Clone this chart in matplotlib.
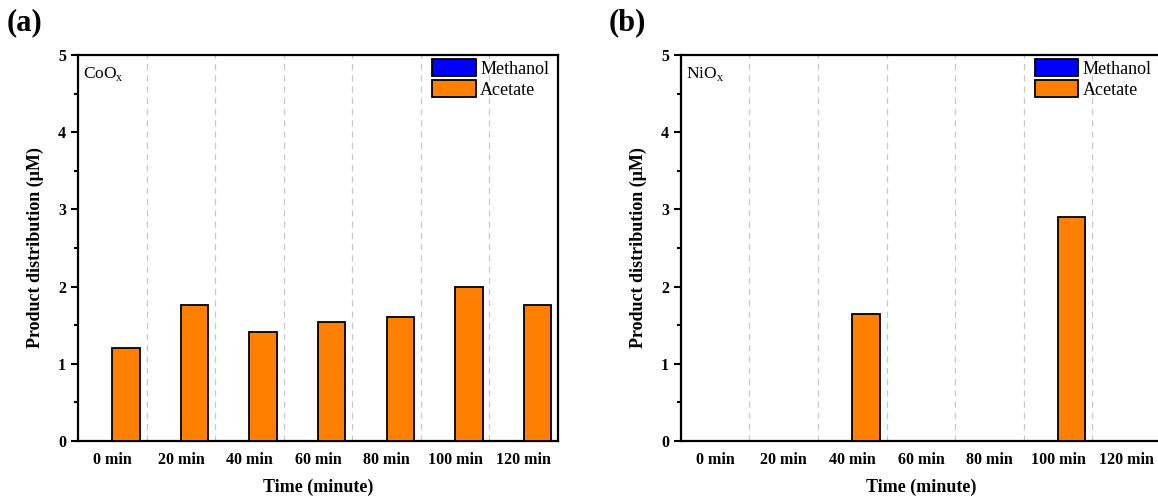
import matplotlib
matplotlib.use("Agg")
import matplotlib.pyplot as plt
import numpy as np

plt.rcParams["font.family"] = ["Liberation Serif", "DejaVu Serif"]
plt.rcParams["mathtext.fontset"] = "custom"
plt.rcParams["mathtext.rm"] = "Liberation Serif"

tiempos = ["0 min", "20 min", "40 min", "60 min", "80 min", "100 min", "120 min"]

# CoOx
metanol_co = [0, 0, 0, 0, 0, 0, 0]
acetato_co = [1.21, 1.76, 1.41, 1.54, 1.60, 2.00, 1.76]

# NiOx
metanol_ni = [0, 0, 0, 0, 0, 0, 0]
acetato_ni = [0, 0, 1.65, 0, 0, 2.90, 0]

COLOR_MET = "#0000ff"
COLOR_ACE = "#ff8000"


def panel(ax, metanol, acetato, muestra, letra):
    x = np.arange(len(tiempos))
    ancho = 0.4
    ax.bar(x - ancho / 2, metanol, ancho, color=COLOR_MET, edgecolor="black",
           linewidth=1.3, label="Methanol", zorder=3)
    ax.bar(x + ancho / 2, acetato, ancho, color=COLOR_ACE, edgecolor="black",
           linewidth=1.3, label="Acetate", zorder=3)
    # separadores entre intervalos
    for s in x[:-1] + 0.5:
        ax.axvline(s, color="#c8c8c8", ls=(0, (5, 4)), lw=0.9, zorder=1)
    ax.set_xlim(-0.5, len(tiempos) - 0.5)
    ax.set_ylim(0, 5)
    ax.set_xticks(x)
    ax.set_xticklabels(tiempos, fontsize=11.5, fontweight="bold")
    ax.tick_params(axis="x", length=0, pad=8)
    ax.set_yticks(range(6))
    ax.set_yticks(np.arange(0.5, 5, 1), minor=True)
    ax.tick_params(axis="y", which="major", length=5, width=1.5, labelsize=11.5)
    ax.tick_params(axis="y", which="minor", length=3, width=1.5)
    for lab in ax.get_yticklabels():
        lab.set_fontweight("bold")
    for sp in ax.spines.values():
        sp.set_linewidth(1.6)
    ax.set_xlabel("Time (minute)", fontsize=13, fontweight="bold", labelpad=8)
    ax.set_ylabel("Product distribution (\u03bcM)", fontsize=13,
                  fontweight="bold", labelpad=10)
    ax.text(0.01, 0.975, muestra, transform=ax.transAxes, fontsize=12.5,
            va="top", ha="left")
    ax.legend(loc="upper right", bbox_to_anchor=(0.985, 0.995), frameon=False,
              fontsize=13, handlelength=2.4, handleheight=1.1,
              handletextpad=0.25, labelspacing=0.12, borderpad=0.1,
              borderaxespad=0.0)
    ax.figure.text(ax.get_position().x0 - 0.062, 0.925, letra, fontsize=22,
                   fontweight="bold", ha="left", va="bottom")


fig = plt.figure(figsize=(11.58, 4.96), dpi=100)
ax1 = fig.add_axes([0.0674, 0.111, 0.4145, 0.778])
ax2 = fig.add_axes([0.588, 0.111, 0.4145, 0.778])

panel(ax1, metanol_co, acetato_co, "CoO$_\\mathregular{x}$", "(a)")
panel(ax2, metanol_ni, acetato_ni, "NiO$_\\mathregular{x}$", "(b)")

fig.savefig("out.png", dpi=100)
